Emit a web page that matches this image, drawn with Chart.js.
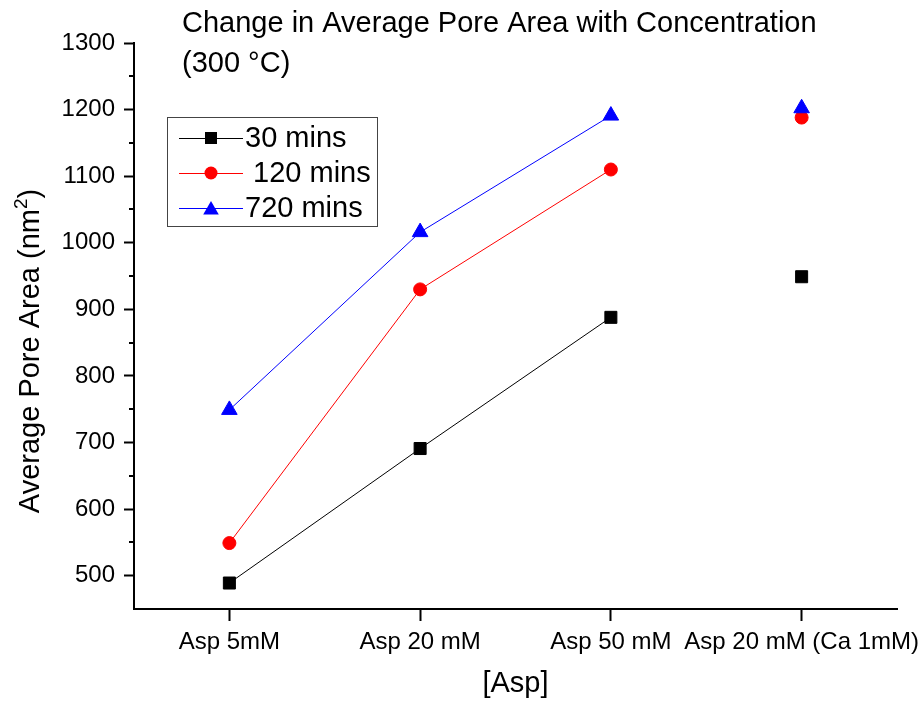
<!DOCTYPE html>
<html>
<head>
<meta charset="utf-8">
<script src="https://cdn.jsdelivr.net/npm/chart.js@4.4.1/dist/chart.umd.min.js"></script>
<style>
  html, body { margin: 0; padding: 0; background: #fff; }
  #wrap { width: 922px; height: 702px; }
</style>
</head>
<body>
<div id="wrap"><canvas id="poreChart" width="922" height="702"></canvas></div>
<script>
// values
const categories = ['Asp 5mM', 'Asp 20 mM', 'Asp 50 mM', 'Asp 20 mM (Ca 1mM)'];
const seriesNames = ['30 mins', ' 120 mins', '720 mins'];
const mins30 = [489, 691, 888, 949];
const mins120 = [549, 930, 1110, 1188];
const mins720 = [749, 1016, 1191, 1202];
const yTicks = [500, 600, 700, 800, 900, 1000, 1100, 1200, 1300];
const yMin = 450;
const yMax = 1300;
const titleLines = ['Change in Average Pore Area with Concentration', '(300 \u00B0C)'];
const xTitle = '[Asp]';
const yTitle = ['Average Pore Area (nm', '2', ')'];

const FONT = '"Liberation Sans", Arial, sans-serif';
Chart.defaults.font.family = FONT;
Chart.defaults.color = '#000';

function makeSet(label, data, color, style, radius, order) {
    return {
        label: label,
        data: data,
        order: order,
        borderColor: color,
        backgroundColor: color,
        borderWidth: 1,
        pointStyle: style,
        pointRadius: radius,
        pointHoverRadius: radius,
        pointBorderWidth: 1,
        pointBorderColor: color,
        pointBackgroundColor: color,
        tension: 0,
        // the Ca sample is plotted on its own, not joined to the line
        segment: {
            borderColor: ctx => ctx.p1DataIndex === 3 ? 'rgba(0,0,0,0)' : color
        }
    };
}

function drawMarker(ctx, style, r, x, y, color) {
    ctx.fillStyle = color;
    ctx.beginPath();
    if (style === 'rect') {
        const s = Math.SQRT1_2 * r;
        ctx.rect(x - s, y - s, 2 * s, 2 * s);
    } else if (style === 'circle') {
        ctx.arc(x, y, r, 0, Math.PI * 2);
    } else {
        ctx.moveTo(x, y - r);
        ctx.lineTo(x + 0.866 * r, y + 0.5 * r);
        ctx.lineTo(x - 0.866 * r, y + 0.5 * r);
        ctx.closePath();
    }
    ctx.fill();
}

// title, y title with superscript, boxed legend, minor y ticks
const decorations = {
    id: 'decorations',
    afterDraw(chart) {
        const ctx = chart.ctx;
        ctx.save();

        // title
        ctx.fillStyle = '#000';
        ctx.font = '29px ' + FONT;
        ctx.textAlign = 'left';
        ctx.textBaseline = 'alphabetic';
        ctx.fillText(titleLines[0], 182, 32);
        ctx.fillText(titleLines[1], 182, 72);

        // y axis title
        ctx.save();
        ctx.translate(39, 351);
        ctx.rotate(-Math.PI / 2);
        ctx.font = '29px ' + FONT;
        const w1 = ctx.measureText(yTitle[0]).width;
        const w3 = ctx.measureText(yTitle[2]).width;
        ctx.font = '19px ' + FONT;
        const w2 = ctx.measureText(yTitle[1]).width;
        let x0 = -(w1 + w2 + w3) / 2;
        ctx.font = '29px ' + FONT;
        ctx.fillText(yTitle[0], x0, 0);
        ctx.font = '19px ' + FONT;
        ctx.fillText(yTitle[1], x0 + w1, -12);
        ctx.font = '29px ' + FONT;
        ctx.fillText(yTitle[2], x0 + w1 + w2, 0);
        ctx.restore();

        // minor ticks halfway between the major ones
        const ys = chart.scales.y;
        ctx.strokeStyle = '#000';
        ctx.lineWidth = 2;
        for (let i = 0; i < yTicks.length - 1; i++) {
            const py = Math.round(ys.getPixelForValue((yTicks[i] + yTicks[i + 1]) / 2));
            ctx.beginPath();
            ctx.moveTo(ys.right - 5, py);
            ctx.lineTo(ys.right, py);
            ctx.stroke();
        }

        // legend
        ctx.strokeStyle = '#444';
        ctx.lineWidth = 1;
        ctx.strokeRect(167.5, 117.5, 210, 109);
        const rows = [138, 173, 208];
        chart.data.datasets.forEach((ds, i) => {
            const y = rows[i];
            ctx.strokeStyle = ds.borderColor;
            ctx.lineWidth = 1;
            ctx.beginPath();
            ctx.moveTo(179, y + 0.5);
            ctx.lineTo(243, y + 0.5);
            ctx.stroke();
            const my = ds.pointStyle === 'triangle' ? y + 2 : y;
            drawMarker(ctx, ds.pointStyle, ds.pointRadius, 211, my, ds.borderColor);
            ctx.fillStyle = '#000';
            ctx.font = '29px ' + FONT;
            ctx.fillText(ds.label, 245, y + 9);
        });

        ctx.restore();
    }
};

const chart = new Chart(document.getElementById('poreChart').getContext('2d'), {
    type: 'line',
    data: {
        labels: categories,
        datasets: [
            makeSet(seriesNames[0], mins30, '#000000', 'rect', 8.5, 3),
            makeSet(seriesNames[1], mins120, '#ff0000', 'circle', 6.5, 2),
            makeSet(seriesNames[2], mins720, '#0000ff', 'triangle', 9, 1)
        ]
    },
    options: {
        responsive: false,
        devicePixelRatio: 1,
        animation: false,
        events: [],
        layout: { padding: { top: 43, right: 25, left: 0, bottom: 0 } },
        plugins: {
            legend: { display: false },
            title: { display: false },
            tooltip: { enabled: false }
        },
        scales: {
            x: {
                type: 'category',
                offset: true,
                grid: {
                    offset: false,
                    drawOnChartArea: false,
                    drawTicks: true,
                    tickLength: 12,
                    tickWidth: 2,
                    tickColor: '#000'
                },
                border: { display: true, color: '#000', width: 2 },
                ticks: {
                    color: '#000',
                    font: { size: 24 },
                    padding: 7,
                    maxRotation: 0,
                    minRotation: 0,
                    autoSkip: false
                },
                title: {
                    display: true,
                    text: xTitle,
                    color: '#000',
                    font: { size: 29 },
                    padding: { top: 0, bottom: 1 }
                },
                afterFit: s => {
                    s.height = 93;
                    s.paddingLeft = 0;
                    s.paddingRight = 0;
                }
            },
            y: {
                type: 'linear',
                min: yMin,
                max: yMax,
                afterBuildTicks: s => { s.ticks = yTicks.map(v => ({ value: v })); },
                grid: {
                    drawOnChartArea: false,
                    drawTicks: true,
                    tickLength: 10,
                    tickWidth: 2,
                    tickColor: '#000'
                },
                border: { display: true, color: '#000', width: 2 },
                ticks: {
                    color: '#000',
                    font: { size: 24 },
                    padding: 9,
                    callback: v => String(v)
                },
                afterFit: s => {
                    s.width = 134;
                    s.paddingTop = 0;
                    s.paddingBottom = 0;
                }
            }
        }
    },
    plugins: [decorations]
});
</script>
</body>
</html>
